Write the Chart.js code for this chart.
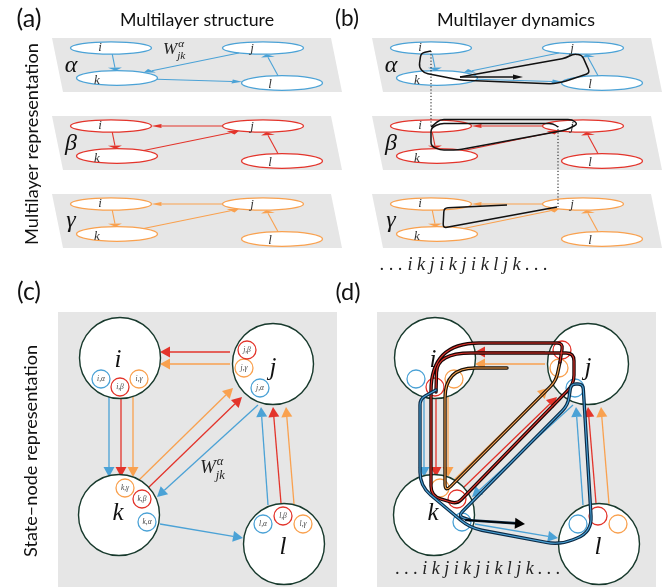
<!DOCTYPE html>
<html>
<head>
<meta charset="utf-8">
<script src="https://cdn.jsdelivr.net/npm/chart.js@4.4.1/dist/chart.umd.min.js"></script>
<style>
  html, body { margin: 0; padding: 0; background: #fff; }
  #wrap { width: 665px; height: 587px; }
</style>
</head>
<body>
<div id="wrap"><canvas id="diagram" width="665" height="587"></canvas></div>
<script>
// layers and colours
const layerNames = ['α', 'β', 'γ'];
const layerColors = ['#4ba2d6', '#e3342b', '#f9a14f'];
const nodeNames = ['i', 'j', 'k', 'l'];

// (a)/(b) multilayer planes: node ellipses on layer alpha, other layers shifted down
const ellipseX = [111, 263, 117, 282];
const ellipseY = [48, 48, 78, 83];
const ellipseRY = [6.2, 6.2, 7.3, 7.3];
const ellipseLabelDX = [-11, -11, -20, -12];
const ellipseLabelDY = [0, 1, 3, 2];
const layerShiftY = [0, 78, 156];
const planeX = [52, 331, 342, 63];
const planeY = [38, 38, 92, 92];
const layerLabelX = 71;
const layerLabelY = [66, 144, 221];
const panelShiftB = 320;

// intra-layer links [from, to]
const layerLinks = [
  [['i', 'k'], ['j', 'k'], ['k', 'l'], ['l', 'j']],
  [['j', 'i'], ['i', 'k'], ['k', 'j'], ['l', 'j']],
  [['j', 'i'], ['i', 'k'], ['k', 'j'], ['l', 'j']]
];

// (b) walk of the random walker, one piece per layer
const walkGammaX = [507, 444, 443, 557];
const walkGammaY = [205, 208, 228, 207];
const walkBetaX = [558, 553, 440, 431, 431, 440, 458, 566, 578, 572, 440, 431];
const walkBetaY = [127, 123.5, 123.5, 128, 146, 150, 150, 130, 124, 119.5, 119.5, 127];
const walkAlphaX = [431, 421, 419, 424, 460, 553, 566, 590, 582, 573, 566, 460];
const walkAlphaY = [51, 53, 67, 73, 80, 84, 81, 73, 55, 54, 58, 77];
const walkAlphaArrow = [460, 77, 523, 77];
const jumpLines = [[431, 51, 431, 127], [558, 126, 558, 207]];

// (c)/(d) state-node representation
const bigNodeX = [120, 273, 119, 284];
const bigNodeY = [358, 364, 515, 544];
const bigLabelDX = [-2, 0, -1, -1];
const bigLabelDY = [2, 4, -2, 3];
const stateX = [[101, 260, 147, 263], [120, 247, 142, 283], [139, 244, 125, 303]];
const stateY = [[379, 388, 522, 524], [387, 350, 499, 516], [379, 368, 488, 524]];
const panelShiftD = 315;

// state-node links: x1, y1, x2, y2, layer
const stateLinks = [
  [230, 352, 160, 352, 1], [230, 364, 160, 364, 2],
  [109, 397, 109, 477, 0], [121, 398, 121, 477, 1], [133, 397, 133, 477, 2],
  [139, 480, 233, 388, 2], [148, 488, 242, 397, 1],
  [258, 405, 157, 497, 0], [160, 524, 243, 538, 0],
  [268, 505, 261, 407, 0], [281, 503, 273, 407, 1], [294, 504, 286, 407, 2]
];

// (d) walk through the state nodes (corner points and corner cut length)
const flowGammaX = [507, 445, 445, 556, 560];
const flowGammaY = [368, 368, 492, 381, 362];
const flowGammaR = [0, 30, 8, 8, 0];
const flowBetaX = [560, 563, 431, 431, 457, 574, 574, 437, 436];
const flowBetaY = [362, 343, 343, 496, 504, 384, 353, 353, 392];
const flowBetaR = [0, 6, 48, 10, 6, 9, 8, 34, 0];
const flowAlphaX = [436, 420, 420, 470, 560, 592, 583, 571, 568, 458, 470];
const flowAlphaY = [390, 399, 486, 528, 545, 532, 384, 384, 405, 516, 520];
const flowAlphaR = [0, 6, 14, 12, 14, 16, 5, 5, 8, 6, 0];
const flowAlphaArrow = [466, 520, 525, 524];

const sequenceText = '. . . i k j i k j i k l j k . . .';

let X = v => v, Y = v => v;

function flatArrow(ctx, x1, y1, x2, y2, color, L, W, s) {
  // arrow lying in a tilted plane: y squashed by s
  const dx = x2 - x1, dy = (y2 - y1) / s;
  const len = Math.hypot(dx, dy);
  const ux = dx / len, uy = dy / len;
  const bx = -ux * L, by = -uy * L;
  ctx.strokeStyle = color;
  ctx.beginPath();
  ctx.moveTo(X(x1), Y(y1));
  ctx.lineTo(X(x2 + bx), Y(y2 + by * s));
  ctx.stroke();
  ctx.fillStyle = color;
  ctx.beginPath();
  ctx.moveTo(X(x2), Y(y2));
  ctx.lineTo(X(x2 + bx - uy * W), Y(y2 + (by + ux * W) * s));
  ctx.lineTo(X(x2 + bx + uy * W), Y(y2 + (by - ux * W) * s));
  ctx.closePath();
  ctx.fill();
}

// polyline with corners cut by a quadratic curve
function roundedPath(ctx, xs, ys, r) {
  const px = xs.map(X), py = ys.map(Y);
  ctx.beginPath();
  ctx.moveTo(px[0], py[0]);
  for (let n = 1; n < px.length - 1; n++) {
    const d = Array.isArray(r) ? r[n] : r;
    const inX = px[n] - px[n - 1], inY = py[n] - py[n - 1];
    const outX = px[n + 1] - px[n], outY = py[n + 1] - py[n];
    const inL = Math.hypot(inX, inY), outL = Math.hypot(outX, outY);
    const dIn = Math.min(d, inL / 2), dOut = Math.min(d, outL / 2);
    ctx.lineTo(px[n] - inX / inL * dIn, py[n] - inY / inL * dIn);
    ctx.quadraticCurveTo(px[n], py[n], px[n] + outX / outL * dOut, py[n] + outY / outL * dOut);
  }
  ctx.lineTo(px[px.length - 1], py[py.length - 1]);
}

function fitText(ctx, text, cx, cy, width, family, weight, rotate) {
  let size = 20;
  ctx.font = weight + ' ' + size + 'px ' + family;
  size = size * width / ctx.measureText(text).width;
  ctx.font = weight + ' ' + size.toFixed(2) + 'px ' + family;
  ctx.save();
  ctx.translate(X(cx), Y(cy));
  if (rotate) ctx.rotate(-Math.PI / 2);
  ctx.textAlign = 'center';
  ctx.textBaseline = 'middle';
  ctx.fillText(text, 0, 0);
  ctx.restore();
}

function drawLayers(ctx, shiftX) {
  for (let L = 0; L < 3; L++) {
    const dy = layerShiftY[L];
    const col = layerColors[L];
    ctx.fillStyle = '#e6e6e6';
    ctx.beginPath();
    planeX.forEach((px, n) => {
      if (n === 0) ctx.moveTo(X(px + shiftX), Y(planeY[n] + dy));
      else ctx.lineTo(X(px + shiftX), Y(planeY[n] + dy));
    });
    ctx.closePath();
    ctx.fill();

    ctx.lineWidth = 1.3;
    nodeNames.forEach((nm, n) => {
      ctx.fillStyle = '#fff';
      ctx.strokeStyle = col;
      ctx.beginPath();
      ctx.ellipse(X(ellipseX[n] + shiftX), Y(ellipseY[n] + dy), 40.5, ellipseRY[n], 0, 0, Math.PI * 2);
      ctx.fill();
      ctx.stroke();
      ctx.fillStyle = '#333';
      ctx.font = 'italic 13px "Liberation Serif"';
      ctx.textAlign = 'center';
      ctx.textBaseline = 'middle';
      ctx.fillText(nm, X(ellipseX[n] + shiftX + ellipseLabelDX[n]), Y(ellipseY[n] + dy + ellipseLabelDY[n]));
    });

    ctx.lineWidth = 1.1;
    layerLinks[L].forEach(([a, b]) => {
      const ia = nodeNames.indexOf(a), ib = nodeNames.indexOf(b);
      const ax = ellipseX[ia] + shiftX, ay = ellipseY[ia] + dy;
      const bx = ellipseX[ib] + shiftX, by = ellipseY[ib] + dy;
      const ddx = bx - ax, ddy = by - ay;
      const ta = 1 / Math.hypot(ddx / 40.5, ddy / ellipseRY[ia]);
      const tb = 1 / Math.hypot(ddx / 40.5, ddy / ellipseRY[ib]);
      flatArrow(ctx, ax + ddx * ta, ay + ddy * ta, bx - ddx * tb, by - ddy * tb, col, 10, 7, 0.3);
    });

    ctx.fillStyle = '#111';
    ctx.font = 'italic 24px "Liberation Serif"';
    ctx.textAlign = 'center';
    ctx.textBaseline = 'middle';
    ctx.fillText(layerNames[L], X(layerLabelX + shiftX), Y(layerLabelY[L]));
  }
}

function drawWeight(ctx, x, y, size) {
  ctx.fillStyle = '#222';
  ctx.textAlign = 'left';
  ctx.textBaseline = 'alphabetic';
  ctx.font = 'italic ' + size + 'px "Liberation Serif"';
  ctx.fillText('W', X(x), Y(y));
  const w = ctx.measureText('W').width;
  ctx.font = 'italic ' + (size * 0.66).toFixed(1) + 'px "Liberation Serif"';
  ctx.fillText('α', X(x + w + 1), Y(y - size * 0.42));
  ctx.fillText('jk', X(x + w), Y(y + size * 0.3));
}

function stateArrow(ctx, x1, y1, x2, y2, color) {
  const len = Math.hypot(x2 - x1, y2 - y1);
  const ux = (x2 - x1) / len, uy = (y2 - y1) / len;
  const L = 10, W = 5.5;
  ctx.strokeStyle = color;
  ctx.lineWidth = 1.3;
  ctx.beginPath();
  ctx.moveTo(X(x1), Y(y1));
  ctx.lineTo(X(x2 - ux * L), Y(y2 - uy * L));
  ctx.stroke();
  ctx.fillStyle = color;
  ctx.beginPath();
  ctx.moveTo(X(x2), Y(y2));
  ctx.lineTo(X(x2 - ux * L - uy * W), Y(y2 - uy * L + ux * W));
  ctx.lineTo(X(x2 - ux * L + uy * W), Y(y2 - uy * L - ux * W));
  ctx.closePath();
  ctx.fill();
}

function flowStroke(ctx, xs, ys, rs, outer, inner) {
  ctx.lineJoin = 'round';
  ctx.lineCap = 'round';
  roundedPath(ctx, xs, ys, rs);
  ctx.strokeStyle = outer;
  ctx.lineWidth = 3.4;
  ctx.stroke();
  roundedPath(ctx, xs, ys, rs);
  ctx.strokeStyle = inner;
  ctx.lineWidth = 1.1;
  ctx.stroke();
}

const diagramPlugin = {
  id: 'diagram',
  beforeDatasetsDraw(chart) {
    const ctx = chart.ctx;
    X = v => chart.scales.x.getPixelForValue(v);
    Y = v => chart.scales.y.getPixelForValue(v);
    ctx.save();
    // panels (a) and (b)
    drawLayers(ctx, 0);
    drawLayers(ctx, panelShiftB);
    // panels (c) and (d) backgrounds
    ctx.fillStyle = '#e6e6e6';
    ctx.fillRect(X(58), Y(312), X(337) - X(58), Y(587) - Y(312));
    ctx.fillRect(X(377), Y(312), X(656) - X(377), Y(587) - Y(312));
    [0, panelShiftD].forEach(sh => {
      stateLinks.forEach(([x1, y1, x2, y2, L]) => stateArrow(ctx, x1 + sh, y1, x2 + sh, y2, layerColors[L]));
    });
    ctx.restore();
  },
  afterDatasetsDraw(chart) {
    const ctx = chart.ctx;
    ctx.save();
    // titles and panel letters
    ctx.fillStyle = '#111';
    fitText(ctx, 'Multilayer structure', 197, 20, 154, 'Lato', '', false);
    fitText(ctx, 'Multilayer dynamics', 516, 20, 158, 'Lato', '', false);
    fitText(ctx, '(a)', 29, 19, 25, 'Lato', '', false);
    fitText(ctx, '(b)', 347, 19, 24, 'Lato', '', false);
    fitText(ctx, '(c)', 29, 292, 24, 'Lato', '', false);
    fitText(ctx, '(d)', 348, 292, 25, 'Lato', '', false);
    fitText(ctx, 'Multilayer representation', 32, 144, 202, 'Lato', '', true);
    fitText(ctx, 'State–node representation', 31, 451, 212, 'Lato', '', true);

    drawWeight(ctx, 163, 54, 17);
    drawWeight(ctx, 200, 473, 19);

    // (b) walk
    ctx.strokeStyle = '#111';
    ctx.lineWidth = 1.5;
    ctx.lineJoin = 'round';
    [[walkGammaX, walkGammaY], [walkBetaX, walkBetaY], [walkAlphaX, walkAlphaY]].forEach(([xs, ys]) => {
      roundedPath(ctx, xs, ys, 4);
      ctx.stroke();
    });
    ctx.lineWidth = 1.5;
    flatArrow(ctx, walkAlphaArrow[0], walkAlphaArrow[1], walkAlphaArrow[2], walkAlphaArrow[3], '#111', 10, 8, 0.3);
    ctx.setLineDash([1.2, 2]);
    ctx.lineWidth = 1;
    jumpLines.forEach(([x1, y1, x2, y2]) => {
      ctx.beginPath();
      ctx.moveTo(X(x1), Y(y1));
      ctx.lineTo(X(x2), Y(y2));
      ctx.stroke();
    });
    ctx.setLineDash([]);

    ctx.textAlign = 'center';
    ctx.textBaseline = 'middle';
    ctx.fillStyle = '#444';
    ctx.font = 'italic 7.5px "Liberation Serif"';
    for (let L = 0; L < 3; L++) {
      nodeNames.forEach((nm, n) => {
        ctx.fillText(nm + ',' + layerNames[L], X(stateX[L][n]), Y(stateY[L][n]));
      });
    }

    // (d) walk
    flowStroke(ctx, flowGammaX, flowGammaY, flowGammaR, '#1a1208', layerColors[2]);
    flowStroke(ctx, flowBetaX, flowBetaY, flowBetaR, '#1a0505', layerColors[1]);
    flowStroke(ctx, flowAlphaX, flowAlphaY, flowAlphaR, '#0b2a45', layerColors[0]);
    ctx.strokeStyle = '#0b2a45';
    ctx.lineWidth = 2.6;
    ctx.beginPath();
    ctx.moveTo(X(flowAlphaArrow[0]), Y(flowAlphaArrow[1]));
    ctx.lineTo(X(flowAlphaArrow[2] - 8), Y(flowAlphaArrow[3] - 0.6));
    ctx.stroke();
    stateArrow(ctx, flowAlphaArrow[0], flowAlphaArrow[1], flowAlphaArrow[2], flowAlphaArrow[3], '#000');

    // node labels in (c) and (d)
    ctx.fillStyle = '#111';
    ctx.textAlign = 'center';
    ctx.textBaseline = 'middle';
    ctx.font = 'italic 25px "Liberation Serif"';
    [0, panelShiftD].forEach(sh => {
      nodeNames.forEach((nm, n) => {
        ctx.fillText(nm, X(bigNodeX[n] + bigLabelDX[n] + sh), Y(bigNodeY[n] + bigLabelDY[n]));
      });
    });

    // walk sequences
    ctx.fillStyle = '#222';
    fitText(ctx, sequenceText, 464, 265, 168, '"Liberation Serif"', 'italic', false);
    fitText(ctx, sequenceText, 478, 569, 165, '"Liberation Serif"', 'italic', false);
    ctx.restore();
  }
};

const bigNodes = [];
[0, panelShiftD].forEach(sh => nodeNames.forEach((nm, n) => bigNodes.push({ x: bigNodeX[n] + sh, y: bigNodeY[n] })));

const stateSets = layerColors.map((col, L) => {
  const pts = [];
  [0, panelShiftD].forEach(sh => nodeNames.forEach((nm, n) => pts.push({ x: stateX[L][n] + sh, y: stateY[L][n] })));
  return {
    data: pts,
    pointRadius: 9,
    pointBackgroundColor: 'rgba(255,255,255,0)',
    pointBorderColor: col,
    pointBorderWidth: 1.3,
    showLine: false,
    order: 1,
    clip: false
  };
});

new Chart(document.getElementById('diagram'), {
  type: 'scatter',
  data: {
    datasets: [{
      data: bigNodes,
      pointRadius: 40.5,
      pointBackgroundColor: '#fff',
      pointBorderColor: '#17392c',
      pointBorderWidth: 1.4,
      showLine: false,
      order: 2,
      clip: false
    }].concat(stateSets)
  },
  options: {
    responsive: false,
    animation: false,
    events: [],
    layout: { padding: 0, autoPadding: false },
    plugins: { legend: { display: false }, tooltip: { enabled: false } },
    scales: {
      x: { type: 'linear', min: 0, max: 665, display: false },
      y: { type: 'linear', min: 0, max: 587, reverse: true, display: false }
    }
  },
  plugins: [diagramPlugin]
});
</script>
</body>
</html>
